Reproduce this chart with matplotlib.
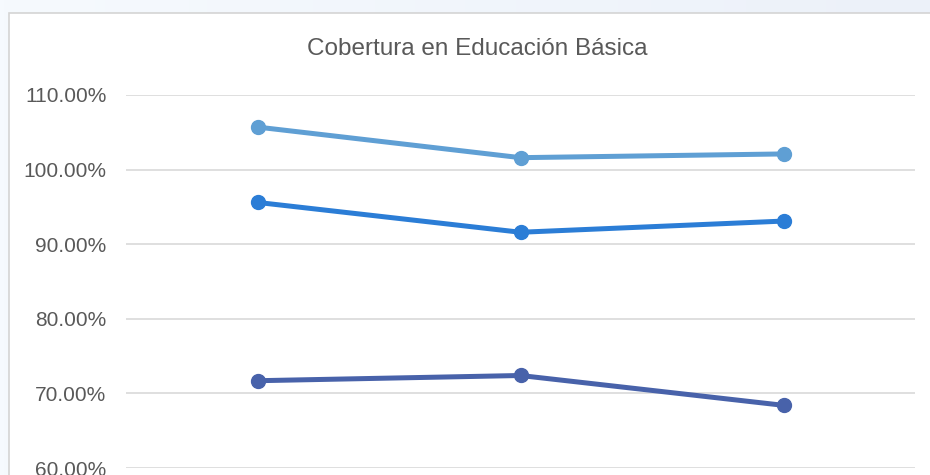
import numpy as np
import matplotlib
matplotlib.use('Agg')
import matplotlib.pyplot as plt
from matplotlib.patches import Rectangle
from matplotlib.ticker import FuncFormatter

# values (fractions)
categories = ['A', 'B', 'C']
serie_alta = [1.057, 1.016, 1.021]
serie_media = [0.956, 0.916, 0.931]
serie_baja = [0.717, 0.724, 0.684]
yticks = [0.6, 0.7, 0.8, 0.9, 1.0, 1.1]

plt.rcParams['font.family'] = ['Liberation Sans', 'DejaVu Sans']

W, H = 930, 475
fig = plt.figure(figsize=(W / 100, H / 100), dpi=100)
fig.patch.set_facecolor('#f3f7fc')

# light gradient behind the chart box
bg = fig.add_axes([0, 0, 1, 1], zorder=-2)
grad = np.linspace(0, 1, 256).reshape(1, -1)
bg.imshow(grad, aspect='auto', extent=[0, 1, 0, 1],
          cmap=matplotlib.colors.LinearSegmentedColormap.from_list('g', ['#f6fafe', '#ecf1f9']))
bg.axis('off')

# chart area box (extends past right/bottom edge)
box = Rectangle((8.5 / W, -0.1), 1.2, 1 - 13.5 / H + 0.1, transform=fig.transFigure,
                facecolor='white', edgecolor='#d4d4d4', linewidth=1.2, zorder=-1)
fig.add_artist(box)

left, right = 126 / W, 915 / W
bottom, top = 1 - 468 / H, 1 - 95 / H
ax = fig.add_axes([left, bottom, right - left, top - bottom])
ax.set_facecolor('none')

x = np.arange(len(categories))
for vals, col in [(serie_alta, '#5f9fd4'), (serie_media, '#2b7dd6'), (serie_baja, '#4862aa')]:
    ax.plot(x, vals, color=col, linewidth=3.6, marker='o', markersize=10,
            solid_capstyle='round', zorder=3, clip_on=False)

ax.set_xlim(-0.5, len(categories) - 0.5)
ax.set_ylim(0.6, 1.1)
ax.set_yticks(yticks)
ax.yaxis.set_major_formatter(FuncFormatter(lambda v, p: f'{v * 100:.2f}%'))
ax.set_xticks(x)
ax.set_xticklabels([])
ax.tick_params(axis='both', length=0)
ax.tick_params(axis='y', pad=14, labelsize=15, labelcolor='#595959')
ax.grid(axis='y', color='#d9d9d9', linewidth=1.2)
ax.set_axisbelow(True)
for s in ax.spines.values():
    s.set_visible(False)

fig.text(477 / W, 1 - 49 / H, 'Cobertura en Educación Básica', ha='center', va='center',
         fontsize=17.5, color='#595959')

fig.savefig('out.png', dpi=100, facecolor=fig.get_facecolor())
